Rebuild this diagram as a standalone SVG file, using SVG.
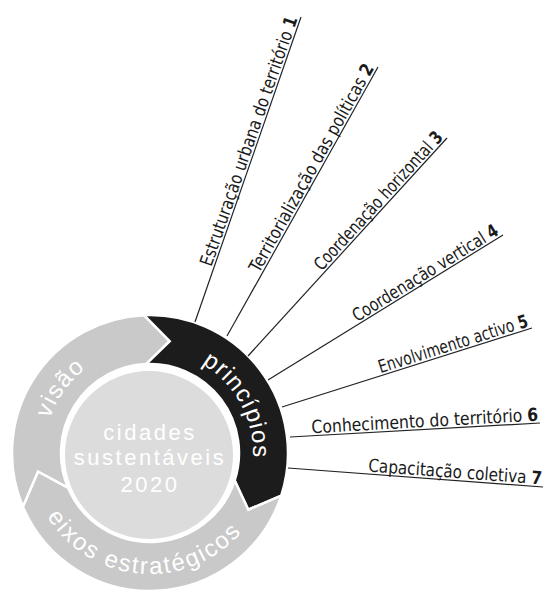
<svg xmlns="http://www.w3.org/2000/svg" width="547" height="591" viewBox="0 0 547 591">
<style>
.seg{stroke:#fff;stroke-width:2.5;stroke-linejoin:miter}
.grey{fill:#c9c9c9}
.dark{fill:#1c1c1c}
.core{fill:#dcdcdc;stroke:#fff;stroke-width:2}
.ring-label{font-family:'Liberation Sans',Arial,sans-serif;font-size:24px;fill:#fff}
.core-label{font-family:'Liberation Sans',Arial,sans-serif;font-size:22px;letter-spacing:2.5px;fill:#fff;text-anchor:middle}
.ray{stroke:#222;stroke-width:1.2;fill:none}
.ray-label{font-family:'DejaVu Sans Condensed','DejaVu Sans',sans-serif;font-stretch:condensed;font-size:18px;fill:#1a1a1a}
.num{font-weight:bold}
</style>
<defs>
<path id="p-visao" d="M73.75,526.63 A106,106 0 0 1 196.47,357.73"/>
<path id="p-princ" d="M117.32,355.32 A103,103 0 0 1 214.12,533.61"/>
<path id="p-eixos" d="M29.60,465.02 A121,121 0 0 0 267.25,482.89"/>
</defs>
<rect width="547" height="591" fill="#fff"/>
<g id="visao">
<path class="seg grey" d="M22.97,506.92 A138,138 0 0 1 143.98,315.13 L169.71,341.22 L146.12,364.08 A89,89 0 0 0 68.08,487.78 L38.06,471.73 Z"/>
<text class="ring-label" letter-spacing="1.5"><textPath href="#p-visao" startOffset="50%" text-anchor="middle">visão</textPath></text>
</g>
<g id="principios">
<path class="seg dark" d="M143.98,315.13 A138,138 0 0 1 281.25,495.64 L248.29,509.75 L234.64,480.50 A89,89 0 0 0 146.12,364.08 L169.71,341.22 Z"/>
<text class="ring-label" letter-spacing="1"><textPath href="#p-princ" startOffset="50%" text-anchor="middle">princípios</textPath></text>
</g>
<g id="eixos">
<path class="seg grey" d="M281.25,495.64 A138,138 0 0 1 22.97,506.92 L38.06,471.73 L68.08,487.78 A89,89 0 0 0 234.64,480.50 L248.29,509.75 Z"/>
<text class="ring-label" letter-spacing="2"><textPath href="#p-eixos" startOffset="50%" text-anchor="middle">eixos estratégicos</textPath></text>
</g>
<g id="cidades">
<circle class="core" cx="149" cy="455" r="85"/>
<text class="core-label" x="150" y="440">cidades</text>
<text class="core-label" x="150" y="465">sustentáveis</text>
<text class="core-label" x="150" y="491.5">2020</text>
</g>
<g id="connectors">
<line class="ray" x1="195" y1="322" x2="301" y2="17"/>
<line class="ray" x1="227" y1="336" x2="378" y2="67"/>
<line class="ray" x1="248" y1="356" x2="447" y2="138"/>
<line class="ray" x1="268" y1="380" x2="503" y2="235"/>
<line class="ray" x1="282" y1="407" x2="532" y2="328"/>
<line class="ray" x1="290" y1="437" x2="540" y2="423"/>
<line class="ray" x1="288" y1="468" x2="543" y2="487"/>
</g>
<g id="principio-1" transform="translate(195,322) rotate(-70.83)">
<text class="ray-label" x="57" y="-2.5" textLength="263" lengthAdjust="spacingAndGlyphs">Estruturação urbana do território <tspan class="num">1</tspan></text>
</g>
<g id="principio-2" transform="translate(227,336) rotate(-60.7)">
<text class="ray-label" x="70" y="-2.5" textLength="236" lengthAdjust="spacingAndGlyphs">Territorialização das políticas <tspan class="num">2</tspan></text>
</g>
<g id="principio-3" transform="translate(248,356) rotate(-47.6)">
<text class="ray-label" x="112" y="-2.5" textLength="181" lengthAdjust="spacingAndGlyphs">Coordenação horizontal <tspan class="num">3</tspan></text>
</g>
<g id="principio-4" transform="translate(268,380) rotate(-31.67)">
<text class="ray-label" x="106" y="-2.5" textLength="168" lengthAdjust="spacingAndGlyphs">Coordenação vertical <tspan class="num">4</tspan></text>
</g>
<g id="principio-5" transform="translate(282,407) rotate(-17.54)">
<text class="ray-label" x="104" y="-2.5" textLength="156" lengthAdjust="spacingAndGlyphs">Envolvimento activo <tspan class="num">5</tspan></text>
</g>
<g id="principio-6" transform="translate(290,437) rotate(-3.2)">
<text class="ray-label" x="22" y="-2.5" textLength="227" lengthAdjust="spacingAndGlyphs">Conhecimento do território <tspan class="num">6</tspan></text>
</g>
<g id="principio-7" transform="translate(288,468) rotate(4.26)">
<text class="ray-label" x="80" y="-2.5" textLength="174" lengthAdjust="spacingAndGlyphs">Capacitação coletiva <tspan class="num">7</tspan></text>
</g>
</svg>
